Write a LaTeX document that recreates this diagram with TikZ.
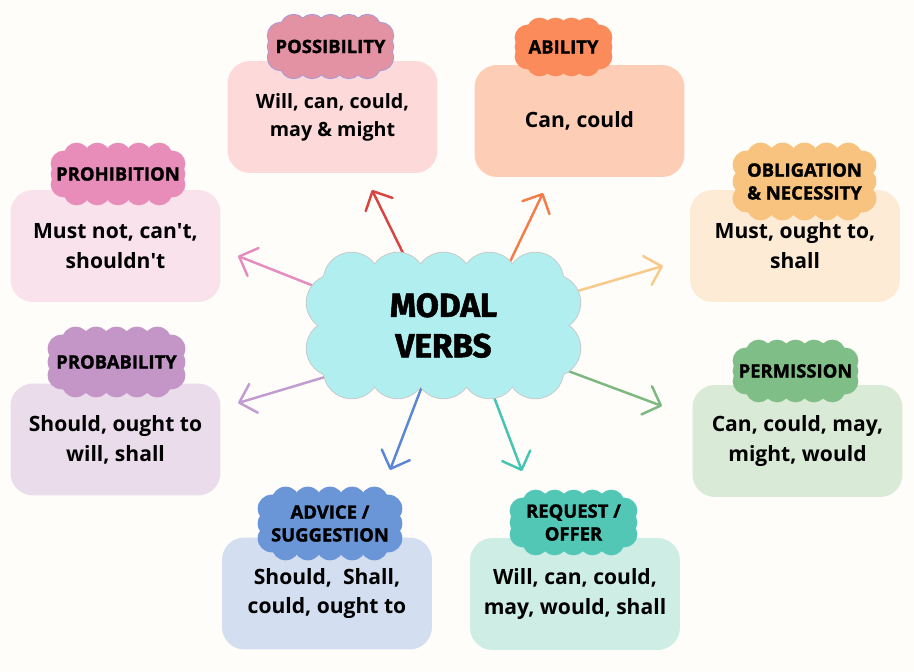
\documentclass[tikz,border=0pt]{standalone}
\usepackage{fontspec}
\setmainfont{Open Sans}
\newfontfamily\tagfont{Open Sans}[BoldFeatures={FakeBold=1.5}]
\newfontfamily\titlefont{Fira Sans}[BoldFeatures={FakeBold=1.5}]
\usetikzlibrary{calc,arrows.meta}

\definecolor{bgc}{HTML}{FEFDF9}
\definecolor{mvc}{HTML}{B0EEF0}
\definecolor{possB}{HTML}{FDD9DA}
\definecolor{possT}{HTML}{E292A2}
\definecolor{possR}{HTML}{D64541}
\definecolor{abilB}{HTML}{FECDB6}
\definecolor{abilT}{HTML}{FB8B5B}
\definecolor{abilR}{HTML}{F47C48}
\definecolor{obligB}{HTML}{FDEBD6}
\definecolor{obligT}{HTML}{F8C27F}
\definecolor{obligR}{HTML}{F9C98A}
\definecolor{permB}{HTML}{D9EAD6}
\definecolor{permT}{HTML}{80BE88}
\definecolor{permR}{HTML}{7CB87F}
\definecolor{reqB}{HTML}{CDEDE5}
\definecolor{reqT}{HTML}{52C7B6}
\definecolor{reqR}{HTML}{45C3B3}
\definecolor{advB}{HTML}{D3DFF0}
\definecolor{advT}{HTML}{6A96D7}
\definecolor{advR}{HTML}{5B86D6}
\definecolor{probB}{HTML}{EADCEB}
\definecolor{probT}{HTML}{C496C8}
\definecolor{probR}{HTML}{C29BD3}
\definecolor{prohB}{HTML}{F9E2EC}
\definecolor{prohT}{HTML}{E88DB9}
\definecolor{prohR}{HTML}{E58DBF}

% puffs round a node: style, node, gaps along top, gaps down a side, radius, inset top, inset side
\newcommand\puffs[7]{%
  \foreach \i in {0,...,#3}{
    \path[#1] ($($(#2.north west)+(#6,0)$)!\i/#3!($(#2.north east)-(#6,0)$)$) circle[radius=#5];
    \path[#1] ($($(#2.south west)+(#6,0)$)!\i/#3!($(#2.south east)-(#6,0)$)$) circle[radius=#5];}
  \foreach \j in {0,...,#4}{
    \path[#1] ($($(#2.north west)+(0,#7)$)!\j/#4!($(#2.south west)-(0,#7)$)$) circle[radius=#5];
    \path[#1] ($($(#2.north east)+(0,#7)$)!\j/#4!($(#2.south east)-(0,#7)$)$) circle[radius=#5];}
  \path[#1] (#2.north west) rectangle (#2.south east);
}

\begin{document}
\begin{tikzpicture}[x=0.02cm,y=-0.02cm]

      \fill[bgc] (0,0) rectangle (914,672);
      \useasboundingbox (0,0) rectangle (914,672);

      \begin{scope}[every node/.style={rounded corners=0.45cm,minimum width=4.2cm,minimum height=2.24cm,align=center,font=\bfseries\fontsize{12}{17}\selectfont}]
        \node[fill=possB,font=\bfseries\fontsize{11.2}{16}\selectfont] (poss) at (332.5,117) {Will, can, could,\\may \& might};
        \node[fill=abilB]  (abil)  at (579.5,121) {Can, could};
        \node[fill=obligB] (oblig) at (795,246)   {Must, ought to,\\shall};
        \node[fill=permB]  (perm)  at (797.5,441) {Can, could, may,\\might, would};
        \node[fill=reqB]   (req)   at (575,594)   {Will, can, could,\\may, would, shall};
        \node[fill=advB]   (adv)   at (327,593.5) {Should,~ Shall,\\could, ought to};
        \node[fill=probB]  (prob)  at (115.5,439.5) {Should, ought to\\will, shall};
        \node[fill=prohB]  (proh)  at (115.5,246) {Must not, can\textquotesingle t,\\shouldn\textquotesingle t};
      \end{scope}

      % inner part of each tag
      \begin{scope}[every node/.style={inner sep=0pt}]
        \node[minimum width=1.98cm,minimum height=0.74cm] (possC)  at (330.5,46.5) {};
        \node[minimum width=1.42cm,minimum height=0.64cm] (abilC)  at (563.5,47) {};
        \node[minimum width=2.3cm,minimum height=0.98cm]  (obligC) at (804.5,181.5) {};
        \node[minimum width=1.98cm,minimum height=0.72cm] (permC)  at (795.5,371) {};
        \node[minimum width=2.02cm,minimum height=0.78cm] (reqC)   at (573.5,522.5) {};
        \node[minimum width=2.32cm,minimum height=0.9cm]  (advC)   at (330,523.5) {};
        \node[minimum width=2.18cm,minimum height=0.84cm] (probC)  at (116.5,362) {};
        \node[minimum width=2.16cm,minimum height=0.72cm] (prohC)  at (118,174) {};
      \end{scope}

      \puffs{draw=black!30!blue!40,line width=0.9pt}{possC}{4}{2}{0.26cm}{13}{8}
      \puffs{fill=possT}{possC}{4}{2}{0.26cm}{13}{8}
      \puffs{fill=abilT}{abilC}{3}{2}{0.26cm}{12}{7}
      \puffs{fill=obligT}{obligC}{4}{2}{0.28cm}{14}{8}
      \puffs{fill=permT}{permC}{4}{2}{0.26cm}{13}{8}
      \puffs{fill=reqT}{reqC}{4}{2}{0.26cm}{13}{8}
      \puffs{fill=advT}{advC}{4}{2}{0.28cm}{14}{8}
      \puffs{fill=probT}{probC}{4}{2}{0.28cm}{14}{8}
      \puffs{fill=prohT}{prohC}{4}{2}{0.26cm}{13}{8}

      \begin{scope}[every node/.style={align=center,inner sep=1pt,font=\tagfont\bfseries\fontsize{10.5}{13}\selectfont}]
        \node (possL)  at (possC)  {POSSIBILITY};
        \node (abilL)  at (abilC)  {ABILITY};
        \node (obligL) at (obligC) {OBLIGATION\\\& NECESSITY};
        \node (permL)  at (permC)  {PERMISSION};
        \node (reqL)   at (reqC)   {REQUEST /\\OFFER};
        \node (advL)   at (advC)   {ADVICE /\\SUGGESTION};
        \node (probL)  at (probC)  {PROBABILITY};
        \node (prohL)  at (prohC)  {PROHIBITION};
      \end{scope}

      \node[inner sep=0pt,minimum width=4.34cm,minimum height=1.78cm] (mv) at (443.5,325.5) {};

      \coordinate (possE)  at (372,190);
      \coordinate (abilE)  at (543,193);
      \coordinate (obligE) at (663,266);
      \coordinate (permE)  at (662,406);
      \coordinate (reqE)   at (522,471);
      \coordinate (advE)   at (390,470);
      \coordinate (probE)  at (238,403);
      \coordinate (prohE)  at (238,256);

      \begin{scope}[every edge/.style={draw,line width=1.4pt,line cap=round,-{Straight Barb[round,length=3mm,width=6mm]}}]
        \path (mv.121)   edge[draw=possR]  (possE);
        \path (mv.38.5)  edge[draw=abilR]  (abilE);
        \path (mv.14.5)  edge[draw=obligR] (obligE);
        \path (mv.-20)   edge[draw=permR]  (permE);
        \path (mv.-48.6) edge[draw=reqR]   (reqE);
        \path (mv.251)   edge[draw=advR]   (advE);
        \path (mv.205)   edge[draw=probR]  (probE);
        \path (mv.164.3) edge[draw=prohR]  (prohE);
      \end{scope}

      \puffs{draw=black!22,line width=1pt}{mv}{4}{1}{0.56cm}{17}{22}
      \puffs{fill=mvc}{mv}{4}{1}{0.56cm}{17}{22}
      \node[align=center,font=\titlefont\bfseries\fontsize{19}{23}\selectfont] (mvL) at (mv) {MODAL\\VERBS};

    \end{tikzpicture}
\end{document}
